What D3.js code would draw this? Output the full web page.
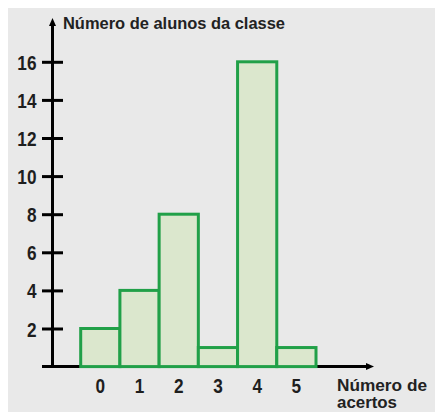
<!DOCTYPE html>
<html>
<head>
<meta charset="utf-8">
<script src="https://cdn.jsdelivr.net/npm/d3@7"></script>
<style>
  html, body { margin: 0; padding: 0; background: #ffffff; }
  svg { display: block; }
  text { font-family: "Liberation Sans", Arial, sans-serif; }
</style>
</head>
<body>
<svg id="chart" width="435" height="412"></svg>
<script>
// Número de acertos (categorias) e número de alunos em cada uma
const categories = ["0", "1", "2", "3", "4", "5"];
const students = [2, 4, 8, 1, 16, 1];
const yTicks = [2, 4, 6, 8, 10, 12, 14, 16];

const svg = d3.select("#chart");
const W = 435, H = 412;
const narrow = 0.82; // compressão horizontal dos números

// painel cinza de fundo
svg.append("rect")
  .attr("x", 8).attr("y", 8)
  .attr("width", W - 8).attr("height", H - 8)
  .attr("fill", "#e9e9e9");

const x = d3.scaleBand()
  .domain(categories)
  .range([80.7, 316])
  .padding(0);

const y = d3.scaleLinear()
  .domain([0, 16])
  .range([366.6, 61.8]);

const axisX = 52.5;
const baseY = y(0);

// eixo horizontal com seta
svg.append("line")
  .attr("x1", 42).attr("x2", 370)
  .attr("y1", baseY).attr("y2", baseY)
  .attr("stroke", "#000").attr("stroke-width", 3);
svg.append("path")
  .attr("d", `M374,${baseY} L366,${baseY - 3.5} L366,${baseY + 3.5} Z`)
  .attr("fill", "#000");

// eixo vertical com seta
svg.append("line")
  .attr("x1", axisX).attr("x2", axisX)
  .attr("y1", baseY + 1.5).attr("y2", 22)
  .attr("stroke", "#000").attr("stroke-width", 3);
svg.append("path")
  .attr("d", `M${axisX},18 L${axisX - 3.5},26 L${axisX + 3.5},26 Z`)
  .attr("fill", "#000");

// marcas e rótulos do eixo vertical
const yAxis = d3.axisLeft(y)
  .tickValues(yTicks)
  .tickFormat(d3.format("d"))
  .tickSize(0)
  .tickPadding(0);

const gy = svg.append("g")
  .attr("transform", `translate(${axisX},0)`)
  .call(yAxis);
gy.select(".domain").remove();
gy.selectAll(".tick line").remove();
gy.selectAll(".tick").append("line")
  .attr("x1", -10.5).attr("x2", 10.5)
  .attr("stroke", "#000").attr("stroke-width", 3);
gy.selectAll(".tick text")
  .attr("transform", `scale(${narrow},1)`)
  .attr("x", -16 / narrow)
  .attr("dy", "0.36em")
  .attr("font-size", 21)
  .attr("font-weight", "bold")
  .attr("fill", "#1e1e1e");

// barras do histograma
svg.append("g")
  .selectAll("rect")
  .data(students)
  .join("rect")
  .attr("x", (d, i) => x(categories[i]))
  .attr("y", d => y(d))
  .attr("width", x.bandwidth())
  .attr("height", d => baseY - y(d))
  .attr("fill", "#dbe7cd")
  .attr("stroke", "#21a048")
  .attr("stroke-width", 3);

// rótulos do eixo horizontal
const xAxis = d3.axisBottom(x).tickSize(0).tickPadding(0);
const gx = svg.append("g")
  .attr("transform", `translate(0,${baseY})`)
  .call(xAxis);
gx.select(".domain").remove();
gx.selectAll(".tick text")
  .attr("transform", `scale(${narrow},1)`)
  .attr("y", 26.5)
  .attr("dy", 0)
  .attr("font-size", 21)
  .attr("font-weight", "bold")
  .attr("fill", "#1e1e1e");

// títulos dos eixos
svg.append("text")
  .attr("x", 63).attr("y", 28.5)
  .attr("font-size", 16)
  .attr("font-weight", "bold")
  .attr("fill", "#222")
  .attr("textLength", 222)
  .attr("lengthAdjust", "spacingAndGlyphs")
  .text("Número de alunos da classe");

const xt = svg.append("g").attr("font-size", 16).attr("font-weight", "bold").attr("fill", "#222");
xt.append("text")
  .attr("x", 337).attr("y", 391)
  .attr("textLength", 90)
  .attr("lengthAdjust", "spacingAndGlyphs")
  .text("Número de");
xt.append("text")
  .attr("x", 337).attr("y", 407.5)
  .attr("textLength", 60)
  .attr("lengthAdjust", "spacingAndGlyphs")
  .text("acertos");
</script>
</body>
</html>
